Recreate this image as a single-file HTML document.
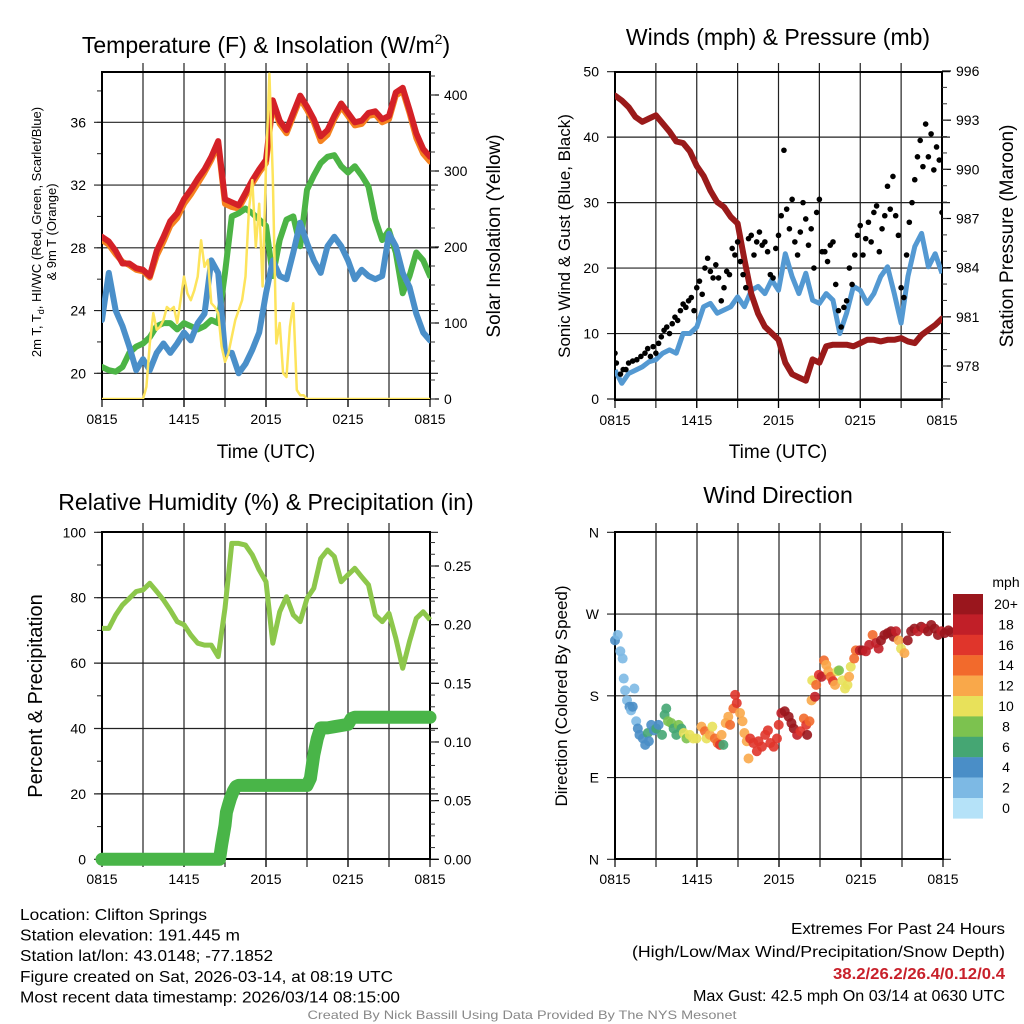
<!DOCTYPE html>
<html><head><meta charset="utf-8"><style>
html,body{margin:0;padding:0;background:#fff;}
svg{display:block;font-family:"Liberation Sans",sans-serif;}
</style></head><body>
<svg id="fig" width="1024" height="1024" viewBox="0 0 1024 1024" xmlns="http://www.w3.org/2000/svg"></svg>
<script>
// ---------- DATA ----------
const timeHours = [0,0.5,1,1.5,2,2.5,3,3.5,4,4.5,5,5.5,6,6.5,7,7.5,8,8.5,9,9.5,10,10.5,11,11.5,12,12.5,13,13.5,14,14.5,15,15.5,16,16.5,17,17.5,18,18.5,19,19.5,20,20.5,21,21.5,22,22.5,23,23.5,24];
const temp2m = [28.7,28.4,27.8,27.0,27.0,26.7,26.6,26.2,27.8,28.7,29.7,30.2,31.1,31.7,32.4,33.0,33.8,34.8,31.1,30.9,30.7,31.5,32.3,33.0,33.6,37.4,36.1,35.5,36.6,37.7,37.0,36.2,35.1,35.5,36.4,37.2,36.6,36.0,36.1,36.6,36.7,36.2,36.4,37.9,38.2,36.8,35.3,34.3,33.8];
const temp9m = [28.5,28.2,27.6,27.1,26.9,26.6,26.5,26.1,27.5,28.4,29.4,29.9,30.8,31.4,32.1,32.8,33.6,34.6,30.8,30.6,30.5,31.3,32.1,32.8,33.4,37.2,35.9,35.3,36.4,37.5,36.8,36.0,34.8,35.2,36.2,37.0,36.4,35.8,35.9,36.4,36.5,36.0,36.2,37.7,38.0,36.6,35.0,34.0,33.5];
const dewPoint = [20.4,20.2,20.1,20.4,21.3,21.7,21.9,22.3,23.0,23.2,23.2,22.8,23.2,23.0,22.8,23.0,23.4,23.2,26.4,30.0,30.2,30.5,30.2,29.8,29.4,26.2,28.5,29.8,30.0,28.1,31.7,32.6,33.4,33.8,33.9,33.2,32.8,33.2,32.6,31.9,29.8,28.5,29.1,27.7,25.1,26.2,27.7,27.2,26.2];
const windChill = [23.4,26.4,24.0,23.0,21.7,20.2,20.9,20.2,21.3,21.9,21.3,21.9,22.6,22.1,23.2,23.8,27.2,26.4,21.3,21.3,20.0,20.6,21.5,22.6,25.1,27.2,26.2,26.0,27.7,29.6,28.3,27.2,26.4,28.1,28.7,28.1,27.2,26.0,26.6,26.2,26.0,26.2,28.9,28.1,26.4,25.5,23.8,22.6,22.1];
const solarHours = [0,3,3.25,3.5,3.75,4,4.25,4.5,4.75,5,5.25,5.5,5.75,6,6.25,6.5,6.75,7,7.25,7.5,7.75,8,8.25,8.5,8.75,9,9.25,9.5,9.75,10,10.25,10.5,10.75,11,11.25,11.5,11.75,12,12.25,12.5,12.75,13,13.25,13.5,13.75,14,14.25,14.5,14.75,15,24];
const solarVals = [0,0,16,73,113,91,95,104,121,117,121,100,130,161,139,130,143,161,209,174,183,126,121,113,69,49,60,82,104,117,130,161,249,288,200,257,148,306,428,292,73,100,34,29,95,126,12,5,5,0,0];
const windSpeed = [4.4,2.4,3.9,4.4,4.9,5.7,6.0,7.0,7.5,7.0,10.0,10.0,11.0,14.1,14.6,13.1,13.6,14.1,15.6,14.1,16.6,17.2,16.1,18.2,16.6,22.2,18.7,16.1,19.2,15.1,14.6,16.1,15.1,10.0,13.1,17.2,16.6,14.6,16.1,18.7,20.2,16.1,11.6,18.7,23.3,25.3,20.2,22.2,19.2];
const pressure = [994.5,994.2,993.8,993.2,992.9,993.1,993.3,992.8,992.3,991.7,991.6,991.1,990.2,989.6,988.7,988.0,987.7,987.1,986.7,984.5,982.4,981.2,980.4,980.0,979.6,978.2,977.5,977.3,977.1,978.4,978.2,979.2,979.3,979.3,979.3,979.2,979.4,979.6,979.6,979.5,979.6,979.6,979.7,979.5,979.4,979.9,980.2,980.5,980.9];
const gustHours = [0,0.1,0.4,0.6,0.8,1.0,1.3,1.6,1.9,2.2,2.4,2.6,2.8,3.0,3.2,3.4,3.6,3.8,4.0,4.2,4.4,4.6,4.8,5.0,5.2,5.4,5.6,5.8,6.0,6.2,6.4,6.6,6.8,7.0,7.2,7.4,7.6,7.8,8.0,8.2,8.4,8.6,8.8,9.0,9.2,9.4,9.6,9.8,10.0,10.2,10.4,10.6,10.8,11.0,11.2,11.4,11.6,11.8,12.0,12.2,12.4,12.6,12.8,13.0,13.2,13.4,13.6,13.8,14.0,14.2,14.4,14.6,14.8,15.0,15.2,15.4,15.6,15.8,16.0,16.2,16.4,16.6,16.8,17.0,17.2,17.4,17.6,17.8,18.0,18.2,18.4,18.6,18.8,19.0,19.2,19.4,19.6,19.8,20.0,20.2,20.4,20.6,20.8,21.0,21.2,21.4,21.6,21.8,22.0,22.2,22.4,22.6,22.8,23.0,23.2,23.4,23.6,23.8,24.0];
const gustVals = [7,5.5,3.8,4.5,4.5,5.5,5.8,6.0,6.5,7.0,7.7,6.5,8.0,7.0,8.5,9.5,10.5,11.0,10.0,11.5,12.5,12.0,13.5,14.5,14.0,15.0,15.5,13.5,17.0,18.0,16.0,20.0,21.5,19.5,18.5,20.5,18.5,15.0,17.0,19.5,19.0,23.0,22.0,24.0,21.0,19.0,17.0,24.5,25.0,22.0,24.0,25.5,23.5,24.0,22.5,19.0,18.5,23.0,25.0,28.0,38.0,29.0,26.0,30.5,24.0,22.0,25.5,30.0,27.5,23.5,26.0,20.0,28.5,30.5,22.5,22.5,21.0,23.5,24.0,17.5,13.5,11.0,14.0,15.0,20.0,17.5,22.0,25.0,26.5,22.0,24.5,27.0,24.0,28.5,29.5,22.5,26.0,28.0,32.5,29.0,34.0,28.0,25.0,17.0,15.5,22.0,27.0,30.0,33.5,37.0,39.5,35.5,42.0,37.0,40.5,35.0,38.5,36.5,28.5];
const rhVals = [70.6,70.6,74.7,77.8,79.8,81.9,82.4,84.4,81.9,79.3,76.2,72.7,71.7,68.6,66.1,65.5,65.5,62.0,76.8,96.6,96.6,96.1,93.1,88.5,84.9,66.1,75.7,80.3,74.7,72.7,79.8,82.9,92.0,94.6,92.6,84.9,87.0,89.0,86.4,83.9,74.7,72.7,75.2,67.6,58.4,66.6,73.7,75.7,73.2];
const precipHours = [0,8.6,8.75,9,9.1,9.25,9.4,9.6,9.8,10,15,15.25,15.5,15.75,16,16.5,17,18,18.25,18.5,24];
const precipVals = [0,0,0.012,0.029,0.040,0.046,0.052,0.058,0.062,0.063,0.063,0.069,0.089,0.103,0.112,0.112,0.113,0.115,0.120,0.121,0.121];
const dirHours = [0,0.2,0.39,0.56,0.64,0.74,0.88,1.06,1.18,1.3,1.42,1.55,1.67,1.79,2.04,2.21,2.4,2.48,2.65,2.85,3.02,3.19,3.44,3.63,3.75,3.88,4.12,4.29,4.49,4.66,4.86,5.03,5.23,5.47,5.72,5.96,6.33,6.58,6.7,6.94,7.12,7.31,7.51,7.68,7.8,7.93,8.1,8.29,8.42,8.66,8.79,8.91,9.15,9.33,9.47,9.64,9.77,9.89,10.13,10.38,10.5,10.75,10.99,11.19,11.36,11.61,11.85,11.98,12.17,12.42,12.71,12.91,13.08,13.33,13.57,13.82,13.99,14.06,14.23,14.38,14.43,14.63,14.72,14.92,15.12,15.29,15.46,15.61,15.78,15.95,16.1,16.27,16.39,16.64,16.83,17.01,17.13,17.25,17.5,17.62,17.91,18.11,18.36,18.6,18.85,19.09,19.29,19.46,19.71,19.95,20.2,20.37,20.56,20.76,20.93,21.18,21.42,21.67,21.91,22.16,22.4,22.65,22.9,23.14,23.39,23.63,23.88,24.12,24.4,24.6];
const dirVals = [241,247,229,221,199,186,175,168,164,168,188,152,144,137,133,126,139,130,148,142,144,148,137,159,166,152,150,144,137,148,144,139,133,137,133,133,146,141,133,137,146,133,128,126,137,126,150,157,148,166,181,172,161,152,139,130,111,133,128,119,130,124,137,142,128,124,133,148,161,163,157,150,144,137,141,155,148,137,152,175,197,179,192,203,201,219,214,207,201,196,192,207,208,197,188,192,201,212,221,230,230,230,229,236,247,238,232,241,247,249,251,245,251,241,232,227,241,251,254,251,256,254,251,258,254,247,251,249,252,250];
const dirSpeed = [4,2,2,2,2,2,2,4,2,4,2,2,4,4,4,4,6,4,4,4,6,4,6,6,6,8,8,6,6,8,6,10,8,10,10,10,12,14,10,12,10,14,14,16,12,6,12,12,14,14,16,16,12,12,12,12,12,16,16,16,16,16,16,16,16,16,16,16,18,20,20,20,20,18,16,14,16,20,14,12,10,18,14,16,18,14,12,12,14,16,12,10,8,10,10,10,12,10,14,14,18,20,18,18,14,18,18,20,20,20,20,20,18,12,10,12,20,20,20,18,20,18,20,20,20,20,18,20,20,20];
const tempTicks = [20,24,28,32,36];
const solarTicks = [0,100,200,300,400];
const windTicks = [0,10,20,30,40,50];
const pressTicks = [978,981,984,987,990,993,996];
const rhTicks = [0,20,40,60,80,100];
const precipTicks = [0,0.05,0.10,0.15,0.20,0.25];
const dirTicks = [0,90,180,270,360];
const dirLabels = ["N","E","S","W","N"];
const timeTickHours = [0,6,12,18,24];
const timeTickLabels = ["0815","1415","2015","0215","0815"];
const cbLabels = ["20+","18","16","14","12","10","8","6","4","2","0"];
const cbColors = ["#9a161d","#c11f28","#e0352b","#f26a2c","#f9a84a","#e8e15a","#7cc24f","#45a673","#4a8ec7","#7db9e4","#b5e2f8"];

// ---------- HELPERS ----------
const NS = "http://www.w3.org/2000/svg";
const svg = document.getElementById("fig");
function mk(tag, attrs, parent){
  const e = document.createElementNS(NS, tag);
  for (const k in attrs) e.setAttribute(k, attrs[k]);
  (parent||svg).appendChild(e);
  return e;
}
function lin(d0,d1,r0,r1){ return v => r0 + (v-d0)*(r1-r0)/(d1-d0); }
function txt(x,y,s,size,anchor,parent,extra){
  const t = mk("text", Object.assign({x:x,y:y,"font-size":size,"text-anchor":anchor||"middle",fill:"#000"}, extra||{}), parent);
  t.textContent = s; return t;
}
function panelFrame(g, X0,X1,Y0,Y1, leftTicks, leftMap, leftLabels, minorStepL, minorRangeL){
  for (let h=3; h<24; h+=3){
    const x = X0 + h*(X1-X0)/24;
    const l = mk("line",{x1:x,y1:Y0-9,x2:x,y2:Y1+8,stroke:"#222","stroke-width":1.2},g);
    
    
  }
  leftTicks.forEach((v,i)=>{
    const y = leftMap(v);
    const l = mk("line",{x1:X0-8,y1:y,x2:X1+8,y2:y,stroke:"#222","stroke-width":1.2},g);
    
    
    const t = txt(X0-16,y+5,leftLabels[i],14,"end",g);
    
    
  });
  if (minorStepL){
    for (let v=minorRangeL[0]; v<=minorRangeL[1]+1e-9; v+=minorStepL){
      const y = leftMap(v);
      if (y<Y0||y>Y1) continue;
      mk("line",{x1:X0-5,y1:y,x2:X0,y2:y,stroke:"#222","stroke-width":1},g);
    }
  }
  const r = mk("rect",{x:X0,y:Y0,width:X1-X0,height:Y1-Y0,fill:"none",stroke:"#000","stroke-width":2},g);
  
  
  timeTickHours.forEach((h,i)=>{
    const x = X0 + h*(X1-X0)/24;
    mk("line",{x1:x,y1:Y1,x2:x,y2:Y1+8,stroke:"#000","stroke-width":1.2},g);
    const t = txt(x,Y1+25,timeTickLabels[i],14,"middle",g);
    
    
  });
}
function rightAxis(g,X1,ticks,map,labels,minorStep,range,Y0,Y1){
  ticks.forEach((v,i)=>{
    const y = map(v);
    mk("line",{x1:X1,y1:y,x2:X1+9,y2:y,stroke:"#000","stroke-width":1.2},g);
    const t = txt(X1+14,y+5,labels[i],14,"start",g);
    
    
  });
  for (let v=range[0]; v<=range[1]+1e-9; v+=minorStep){
    const y = map(v); if (y<Y0||y>Y1) continue;
    mk("line",{x1:X1,y1:y,x2:X1+5,y2:y,stroke:"#333","stroke-width":1},g);
  }
}
function pathFrom(xs,ys,xm,ym){
  return xs.map((h,i)=>(i?"L":"M")+xm(h).toFixed(1)+","+ym(ys[i]).toFixed(1)).join(" ");
}
function clip(id,X0,Y0,X1,Y1){
  const defs = mk("defs",{}); const c = mk("clipPath",{id:id},defs);
  mk("rect",{x:X0,y:Y0,width:X1-X0,height:Y1-Y0},c);
}

// ---------- PANEL 1 ----------
{
  const X0=102,X1=430,Y0=72,Y1=399;
  const g = mk("g",{});  
  const xm = lin(0,24,X0,X1), ym = lin(20,36,373.3,122.3), sm = lin(0,400,399,95);
  clip("c1",X0,Y0-2,X1,Y1);
  panelFrame(g,X0,X1,Y0,Y1,tempTicks,ym,tempTicks.map(String),2,[18,40]);
  rightAxis(g,X1,solarTicks,sm,solarTicks.map(String),25,[0,425],Y0,Y1);
  const cg = mk("g",{"clip-path":"url(#c1)"},g);
  const series = [[temp9m,"#f5821f",6,"temp-9m-line"],[temp2m,"#d42127",6,"temp-2m-line"],[dewPoint,"#4cb445",6,"dewpoint-line"],[windChill,"#4a8fc9",6,"windchill-line"]];
  series.forEach(s=>{
    const p = mk("path",{d:pathFrom(timeHours,s[0],xm,ym),fill:"none",stroke:s[1],"stroke-width":s[2],"stroke-linejoin":"round","stroke-linecap":"round"},cg);
    
    
  });
  const sp = mk("path",{d:pathFrom(solarHours,solarVals,xm,sm),fill:"none",stroke:"#fde45c","stroke-width":2.5,"stroke-linejoin":"round"},cg);
  
  
  const t = mk("text",{x:266,y:53,"font-size":23,"text-anchor":"middle"},g);
  t.innerHTML = 'Temperature (F) &amp; Insolation (W/m<tspan dy="-9" font-size="14">2</tspan><tspan dy="9">)</tspan>';
   
  const xt = txt(266,458,"Time (UTC)",19,"middle",g);  
  const l1 = mk("text",{x:0,y:0,"font-size":13,"text-anchor":"middle",transform:"translate(41,232) rotate(-90)"},g);
  l1.innerHTML = '2m T, T<tspan dy="3" font-size="9">d</tspan><tspan dy="-3">, HI/WC (Red, Green, Scarlet/Blue)</tspan>';
   
  const l2 = txt(0,0,"& 9m T (Orange)",13,"middle",g,{transform:"translate(56,232) rotate(-90)"});
   
  const r = txt(0,0,"Solar Insolation (Yellow)",19,"middle",g,{transform:"translate(500,236) rotate(-90)"});
   
}

// ---------- PANEL 2 ----------
{
  const X0=615,X1=942,Y0=72,Y1=400;
  const g = mk("g",{});  
  const xm = lin(0,24,X0,X1), ym = lin(0,50,399,71.7), pm = lin(978,996,366,71);
  clip("c2",X0,Y0-2,X1,Y1);
  panelFrame(g,X0,X1,Y0,Y1,windTicks,ym,windTicks.map(String),0,null);
  rightAxis(g,X1,pressTicks,pm,pressTicks.map(String),1,[976,996],Y0,Y1);
  const cg = mk("g",{"clip-path":"url(#c2)"},g);
  const wp = mk("path",{d:pathFrom(timeHours,windSpeed,xm,ym),fill:"none",stroke:"#5499d2","stroke-width":5,"stroke-linejoin":"round"},cg);
   
  const pp = mk("path",{d:pathFrom(timeHours,pressure,xm,pm),fill:"none",stroke:"#9a1a1a","stroke-width":6,"stroke-linejoin":"round","stroke-linecap":"round"},cg);
   
  gustHours.forEach((h,i)=>{
    const c = mk("circle",{cx:xm(h),cy:ym(gustVals[i]),r:2.8,fill:"#000"},cg);
    
    
  });
  const t = txt(778,45,"Winds (mph) & Pressure (mb)",23,"middle",g);  
  const xt = txt(778,458,"Time (UTC)",19,"middle",g);  
  const l = txt(0,0,"Sonic Wind & Gust (Blue, Black)",17,"middle",g,{transform:"translate(570,236) rotate(-90)"});  
  const r = txt(0,0,"Station Pressure (Maroon)",19,"middle",g,{transform:"translate(1013,236) rotate(-90)"});  
}

// ---------- PANEL 3 ----------
{
  const X0=102,X1=430,Y0=532,Y1=859;
  const g = mk("g",{});  
  const xm = lin(0,24,X0,X1), ym = lin(0,100,859.3,532.3), pm = lin(0,0.25,859.3,566);
  clip("c3",X0-8,Y0-2,X1+8,Y1+8);
  panelFrame(g,X0,X1,Y0,Y1,rhTicks,ym,rhTicks.map(String),10,[0,100]);
  rightAxis(g,X1,precipTicks,pm,precipTicks.map(v=>v.toFixed(2)),0.01,[0,0.27],Y0,Y1);
  const cg = mk("g",{"clip-path":"url(#c3)"},g);
  const rp = mk("path",{d:pathFrom(timeHours,rhVals,xm,ym),fill:"none",stroke:"#8dc74b","stroke-width":5,"stroke-linejoin":"round"},cg);
   
  const pp = mk("path",{d:pathFrom(precipHours,precipVals,xm,pm),fill:"none",stroke:"#49b548","stroke-width":13,"stroke-linejoin":"round","stroke-linecap":"round"},cg);
   
  const t = txt(266,510,"Relative Humidity (%) & Precipitation (in)",23,"middle",g);  
  const l = txt(0,0,"Percent & Precipitation",20,"middle",g,{transform:"translate(42,696) rotate(-90)"});  
}

// ---------- PANEL 4 ----------
{
  const X0=615,X1=943,Y0=532,Y1=859;
  const g = mk("g",{});  
  const xm = lin(0,24,X0,X1), ym = lin(0,360,859.3,532.3);
  panelFrame(g,X0,X1,Y0,Y1,dirTicks,ym,dirLabels,0,null);
  function spColor(s){ const idx = Math.max(0,Math.min(10, 10-Math.round(s/2))); return cbColors[idx]; }
  dirHours.forEach((h,i)=>{
    const c = mk("circle",{cx:xm(h),cy:ym(dirVals[i]),r:5,fill:spColor(dirSpeed[i]),"fill-opacity":0.9},g);
    
    
  });
  const t = txt(778,503,"Wind Direction",23,"middle",g);  
  const l = txt(0,0,"Direction (Colored By Speed)",17,"middle",g,{transform:"translate(567,696) rotate(-90)"});  
  const cb = mk("g",{},g);  
  cbColors.forEach((c,i)=>{
    const r = mk("rect",{x:953,y:594+i*20.4,width:30,height:20.6,fill:c},cb);
     
    const tl = txt(1006,609+i*20.4,cbLabels[i],14,"middle",cb);  
  });
  const u = txt(1006,587,"mph",14,"middle",cb);  
}

// ---------- FOOTER TEXT ----------
{
  const g = mk("g",{});  
  const lines = [["Location: Clifton Springs",187],["Station elevation: 191.445 m",220],["Station lat/lon: 43.0148; -77.1852",253],["Figure created on Sat, 2026-03-14, at 08:19 UTC",373],["Most recent data timestamp: 2026/03/14 08:15:00",380]];
  lines.forEach((l,i)=>{
    const t = txt(20,920+i*20.6,l[0],16,"start",g,{textLength:l[1],lengthAdjust:"spacingAndGlyphs"});
     
  });
  const g2 = mk("g",{});  
  const rl = [["Extremes For Past 24 Hours",214,934,"#000","normal"],["(High/Low/Max Wind/Precipitation/Snow Depth)",373,957,"#000","normal"],["38.2/26.2/26.4/0.12/0.4",172,979,"#c8202a","bold"],["Max Gust: 42.5 mph On 03/14 at 0630 UTC",312,1001,"#000","normal"]];
  rl.forEach(l=>{
    const t = txt(1005,l[2],l[0],16,"end",g2,{textLength:l[1],lengthAdjust:"spacingAndGlyphs",fill:l[3],"font-weight":l[4]});
     
  });
  const f = txt(522,1019,"Created By Nick Bassill Using Data Provided By The NYS Mesonet",12,"middle",svg,{fill:"#888",textLength:429,lengthAdjust:"spacingAndGlyphs"});
   
}
</script>
</body></html>
